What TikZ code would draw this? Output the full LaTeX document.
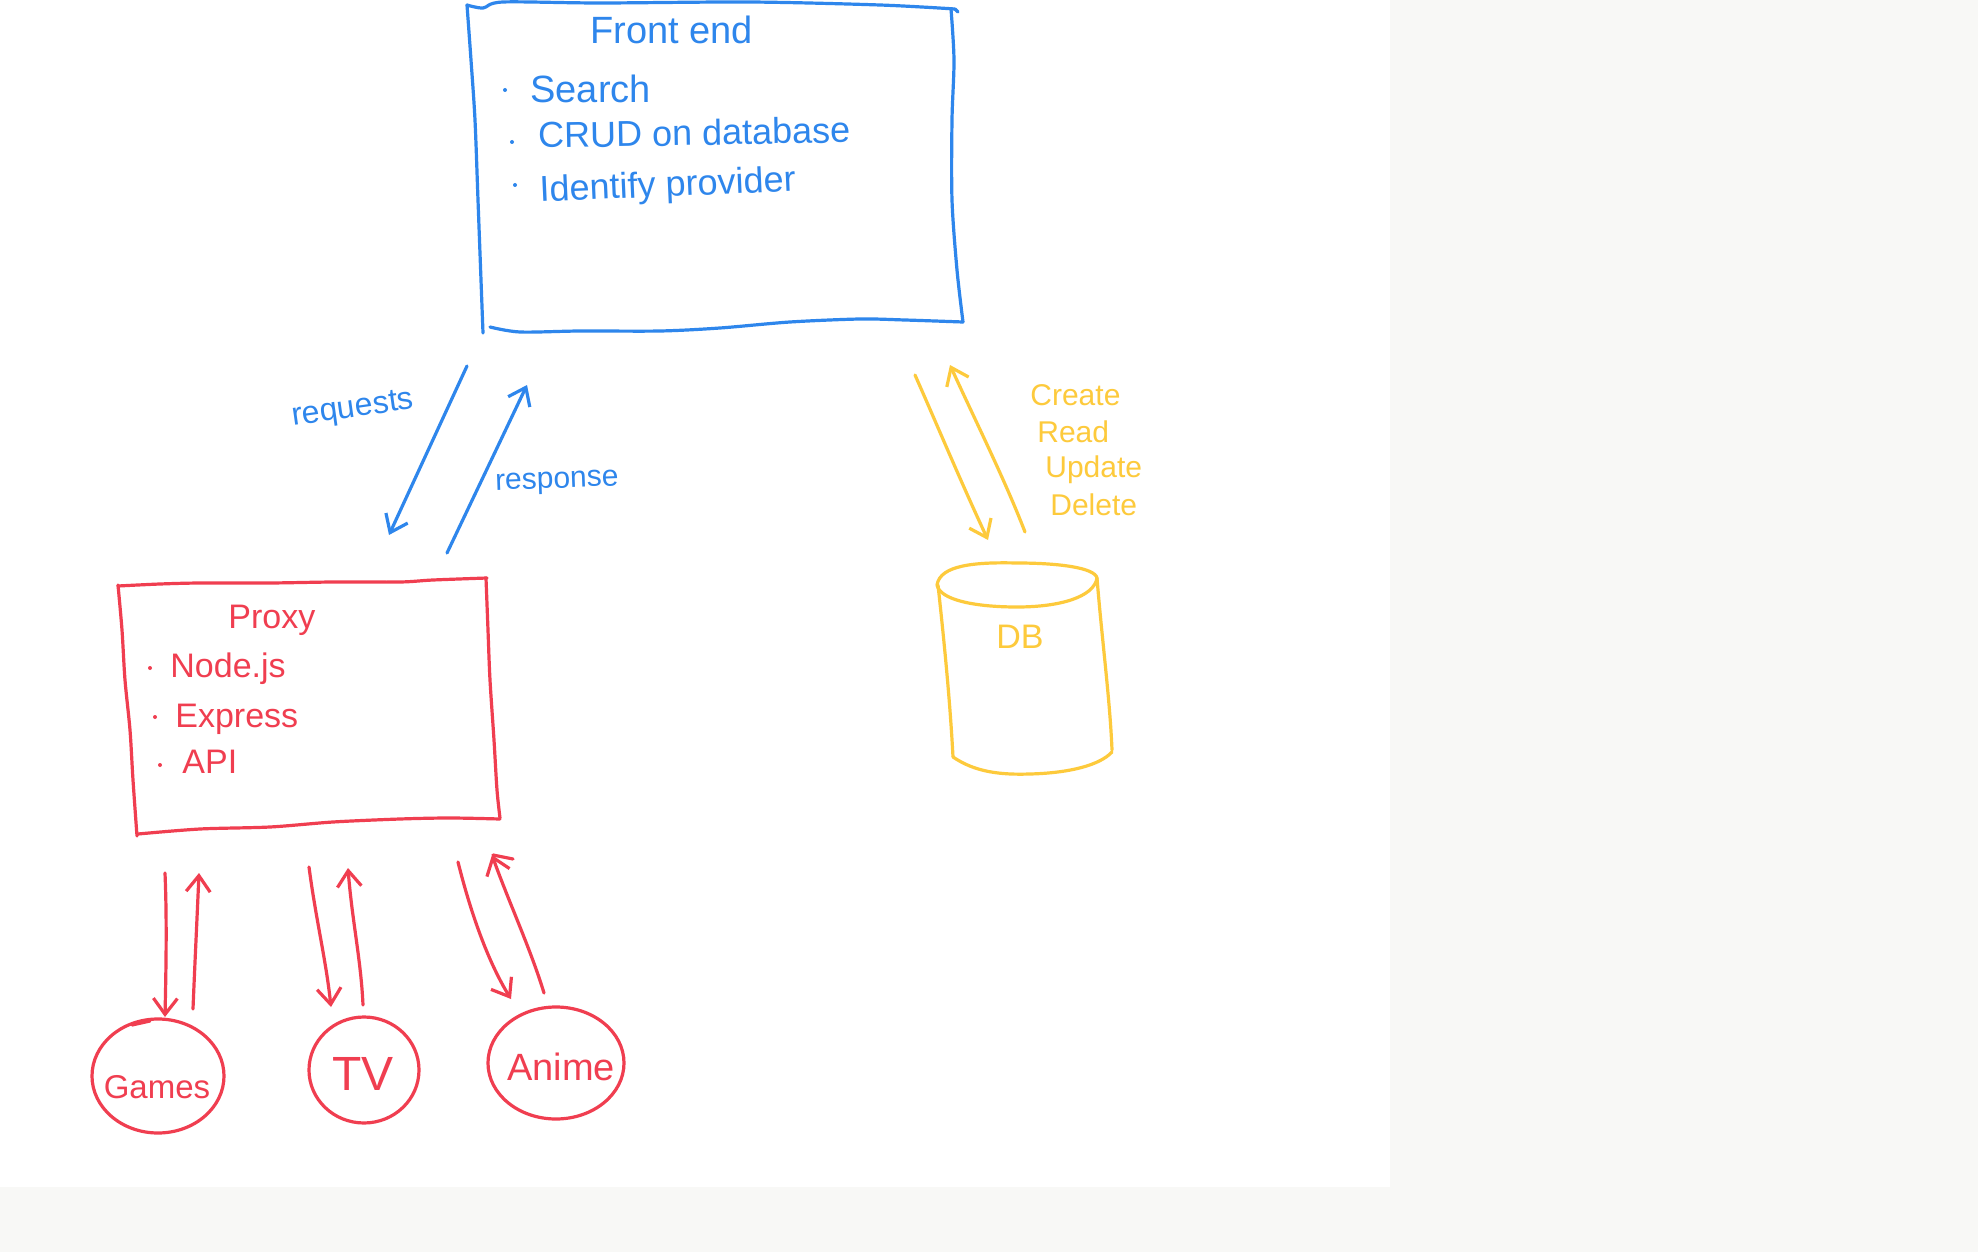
\documentclass[tikz,border=0pt]{standalone}
\usepackage{fontspec}
\setmainfont{Liberation Sans}
\usetikzlibrary{arrows.meta}
\definecolor{fblue}{RGB}{46,134,236}
\definecolor{fred}{RGB}{240,62,80}
\definecolor{fyel}{RGB}{253,202,60}
\definecolor{paper}{RGB}{248,248,246}
\tikzset{
  pen/.style={line width=1.6pt, line cap=round, line join=round},
  bl/.style={pen, draw=fblue},
  rd/.style={pen, draw=fred},
  yl/.style={pen, draw=fyel},
  arr/.style={-{Straight Barb[length=8pt,width=12pt,line width=1.6pt]}},
  txt/.style={inner sep=0pt, anchor=base west},
}
\begin{document}
\begin{tikzpicture}[x=0.5pt,y=-0.5pt]
% canvas
\fill[paper] (0,0) rectangle (1978,1252);
\fill[white] (0,0) rectangle (1390,1187);
\useasboundingbox (0,0) rectangle (1978,1252);

% ---------------- Front end box
\draw[bl] plot[smooth] coordinates {(467,5) (483,8) (503,2) (600,3) (750,2) (880,5) (955,9)};
\draw[bl] plot[smooth] coordinates {(467,5) (471,60) (475,120) (478,200) (481,280) (483,333)};
\draw[bl] plot[smooth] coordinates {(490,327) (520,332) (580,331) (660,331) (720,328) (790,322) (860,319) (905,320) (963,322)};
\draw[bl] plot[smooth] coordinates {(951,9) (954,60) (952,120) (952,200) (957,270) (963,322)};
\draw[bl] (955,9) -- (958,12);

\node[txt, text=fblue, font=\fontsize{19}{22}\selectfont] (fe) at (590,44) {Front end};
\fill[fblue] (505,90) circle (2);
\node[txt, text=fblue, font=\fontsize{19}{22}\selectfont] (fe1) at (530,103) {Search};
\fill[fblue] (512,142) circle (2);
\node[txt, text=fblue, font=\fontsize{18}{22}\selectfont, rotate=1] (fe2) at (538,148) {CRUD on database};
\fill[fblue] (515,185) circle (2);
\node[txt, text=fblue, font=\fontsize{18}{22}\selectfont, rotate=2.5] (fe3) at (540,202) {Identify provider};

% requests / response
\coordinate (rq1) at (467,366);
\coordinate (rq2) at (389,535);
\coordinate (rs1) at (447,553);
\coordinate (rs2) at (527,385);
\draw[bl, arr] (rq1) -- (rq2);
\draw[bl, arr] (rs1) -- (rs2);
\node[text=fblue, font=\fontsize{16}{19}\selectfont, rotate=8, inner sep=0pt] (req) at (353,410) {requests};
\node[text=fblue, font=\fontsize{15}{18}\selectfont, rotate=2, inner sep=0pt] (resp) at (557,483) {response};

% ---------------- DB
\coordinate (db1) at (915,375);
\coordinate (db2) at (988,540);
\coordinate (db3) at (1025,532);
\coordinate (db4) at (950,365);
\draw[yl, arr] (db1) .. controls (935,420) and (960,480) .. (db2);
\draw[yl, arr] (db3) .. controls (1005,480) and (975,420) .. (db4);
\node[txt, text=fyel, font=\fontsize{15}{18}\selectfont] (cr) at (1030,405) {Create};
\node[txt, text=fyel, font=\fontsize{15}{18}\selectfont] (rd) at (1037,442) {Read};
\node[txt, text=fyel, font=\fontsize{15}{18}\selectfont] (up) at (1045,477) {Update};
\node[txt, text=fyel, font=\fontsize{15}{18}\selectfont] (de) at (1050,515) {Delete};

\draw[yl] (937,585) .. controls (940,565) and (975,562) .. (1017,563)
   .. controls (1060,563) and (1095,568) .. (1097,578)
   .. controls (1094,597) and (1060,607) .. (1017,607)
   .. controls (975,607) and (940,600) .. (937,585);
\draw[yl] (938,585) .. controls (944,640) and (950,700) .. (953,757);
\draw[yl] (1097,578) .. controls (1102,640) and (1110,700) .. (1112,750);
\draw[yl] (953,757) .. controls (975,772) and (1000,775) .. (1030,774)
   .. controls (1070,773) and (1100,765) .. (1112,752);
\node[text=fyel, font=\fontsize{17}{20}\selectfont, inner sep=0pt] (db) at (1020,637) {DB};

% ---------------- Proxy box
\draw[rd] plot[smooth] coordinates {(118,586) (160,584) (200,583) (270,583) (333,582) (400,582) (433,580) (487,578)};
\draw[rd] plot[smooth] coordinates {(118,585) (122,630) (125,680) (130,730) (133,780) (137,836)};
\draw[rd] plot[smooth] coordinates {(138,834) (200,829) (270,827) (333,822) (400,819) (450,818) (500,819)};
\draw[rd] plot[smooth] coordinates {(486,578) (488,630) (490,680) (494,740) (497,790) (500,818)};

\node[txt, text=fred, font=\fontsize{17}{20}\selectfont] (px) at (228,628) {Proxy};
\fill[fred] (150,668) circle (2);
\node[txt, text=fred, font=\fontsize{17}{20}\selectfont] (px1) at (170,677) {Node.js};
\fill[fred] (155,717) circle (2);
\node[txt, text=fred, font=\fontsize{17}{20}\selectfont] (px2) at (175,727) {Express};
\fill[fred] (160,765) circle (2);
\node[txt, text=fred, font=\fontsize{17}{20}\selectfont] (px3) at (182,773) {API};

% ---------------- services
\coordinate (g1) at (165,873);
\coordinate (g2) at (165,1017);
\coordinate (g3) at (193,1009);
\coordinate (g4) at (199,873);
\draw[rd, arr] (g1) .. controls (167,920) and (166,970) .. (g2);
\draw[rd, arr] (g3) .. controls (195,960) and (197,920) .. (g4);

\coordinate (t1) at (309,867);
\coordinate (t2) at (331,1007);
\coordinate (t3) at (363,1005);
\coordinate (t4) at (348,868);
\draw[rd, arr] (t1) .. controls (316,920) and (326,960) .. (t2);
\draw[rd, arr] (t3) .. controls (361,960) and (352,920) .. (t4);

\coordinate (a1) at (458,862);
\coordinate (a2) at (511,999);
\coordinate (a3) at (544,993);
\coordinate (a4) at (492,855);
\draw[rd, arr] (a1) .. controls (470,910) and (487,960) .. (a2);
\draw[rd, arr] (a3) .. controls (531,950) and (508,900) .. (a4);
\draw[rd] (493,855) -- (513,859);

\draw[rd] (158,1076) ellipse [x radius=66, y radius=57];
\draw[rd] (132,1025) -- (150,1021);
\draw[rd] (364,1070) ellipse [x radius=55, y radius=53];
\draw[rd] (556,1063) ellipse [x radius=68, y radius=56];

\node[text=fred, font=\fontsize{16.5}{19}\selectfont, inner sep=0pt, anchor=base] (games) at (157,1098) {Games};
\node[text=fred, font=\fontsize{24}{28}\selectfont, inner sep=0pt, anchor=base] (tv) at (363,1090) {TV};
\node[text=fred, font=\fontsize{19}{22}\selectfont, inner sep=0pt, anchor=base] (anime) at (561,1080) {Anime};
\end{tikzpicture}
\end{document}
